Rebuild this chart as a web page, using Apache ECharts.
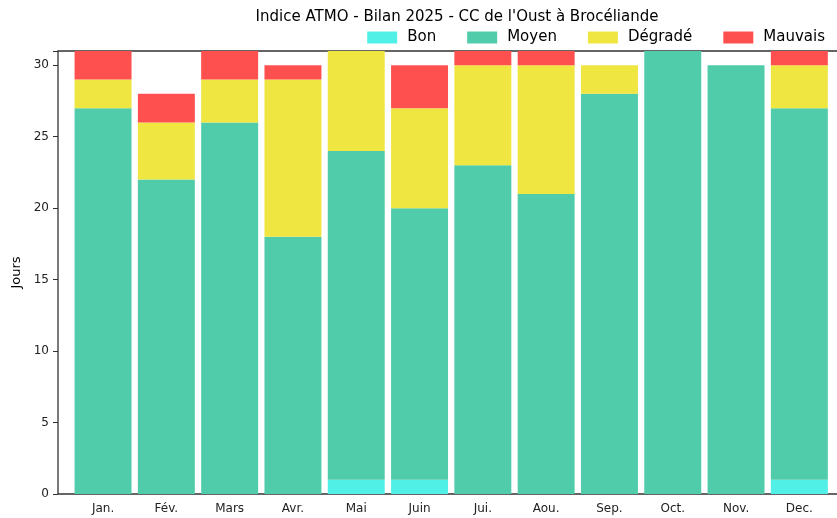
<!DOCTYPE html>
<html><head><meta charset="utf-8">
<script src="https://cdn.jsdelivr.net/npm/echarts@6/dist/echarts.min.js"></script>
<style>html,body{margin:0;padding:0;background:#fff}#c{width:837px;height:518px}</style>
</head><body><div id="c"></div>
<script>
const months = ['Jan.','Fév.','Mars','Avr.','Mai','Juin','Jui.','Aou.','Sep.','Oct.','Nov.','Dec.'];
const bon      = [0,0,0,0,1,1,0,0,0,0,0,1];
const moyen    = [27,22,26,18,23,19,23,21,28,31,30,26];
const degrade  = [2,4,3,11,7,7,7,9,2,0,0,3];
const mauvais  = [2,2,2,1,0,3,1,1,0,0,0,1];
const yTicks = [0,5,10,15,20,25,30];

const font = 'DejaVu Sans';
const chart = echarts.init(document.getElementById('c'));
const mk = (name, data, color) => ({
  name, type: 'bar', stack: 'm', data, xAxisIndex: 1, yAxisIndex: 1,
  barWidth: '90%', itemStyle: { color }, emphasis: { disabled: true }
});
chart.setOption({
  animation: false,
  title: { text: "Indice ATMO - Bilan 2025 - CC de l'Oust à Brocéliande", left: 452, textAlign: 'center', top: 5,
    textStyle: { fontFamily: font, fontSize: 15, fontWeight: 'normal', color: '#000' } },
  legend: { top: 25, right: 7, itemWidth: 30, itemHeight: 12, itemGap: 31, icon: 'rect',
    textStyle: { fontFamily: font, fontSize: 15, color: '#000', padding: [0,0,0,5] },
    data: ['Bon','Moyen','Dégradé','Mauvais'] },
  grid: [
    { left: 58, width: 800, top: 51, bottom: 24, show: true, borderColor: '#333', borderWidth: 1.3, outerBoundsMode: 'none', containLabel: false },
    { left: 71.4, width: 759.6, top: 51, bottom: 24, outerBoundsMode: 'none' }
  ],
  xAxis: [
    { type: 'value', gridIndex: 0, min: 0, max: 1, axisLine: { show: false }, axisTick: { show: false }, axisLabel: { show: false }, splitLine: { show: false } },
    { type: 'category', gridIndex: 1, data: months, axisLine: { show: false },
      axisTick: { show: false },
      axisLabel: { fontFamily: font, fontSize: 12, color: '#222', margin: 9 } }
  ],
  yAxis: [
    { type: 'value', gridIndex: 0, min: 0, max: 31, interval: 5, name: 'Jours', nameLocation: 'middle', nameGap: 29,
      nameTextStyle: { fontFamily: font, fontSize: 13, color: '#000' },
      axisLine: { show: false }, axisTick: { show: true, length: 5, lineStyle: { color: '#333' } },
      axisLabel: { fontFamily: font, fontSize: 12, color: '#222', margin: 9,
        formatter: v => yTicks.includes(v) ? String(v) : '' },
      splitLine: { show: false } },
    { type: 'value', gridIndex: 1, min: 0, max: 31, show: false, splitLine: { show: false } }
  ],
  series: [
    mk('Bon', bon, '#50F0E6'),
    mk('Moyen', moyen, '#50CCAA'),
    mk('Dégradé', degrade, '#F0E641'),
    mk('Mauvais', mauvais, '#FF5050')
  ]
});
</script></body></html>
